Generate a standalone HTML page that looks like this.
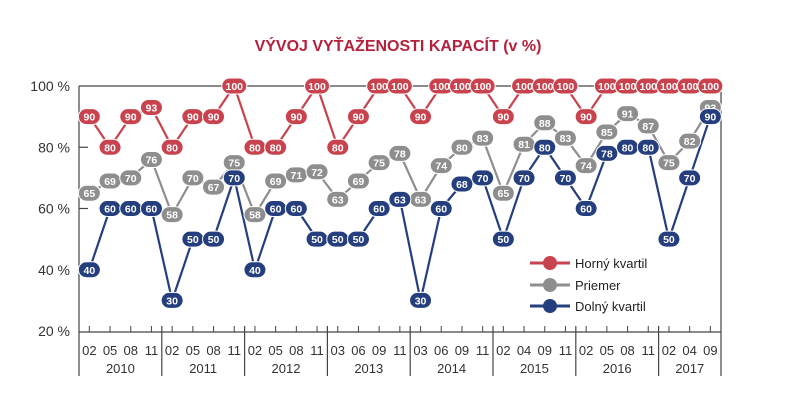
<!DOCTYPE html>
<html><head><meta charset="utf-8"><style>
html,body{margin:0;padding:0;background:#fff;width:796px;height:420px;overflow:hidden}
text{font-family:"Liberation Sans",sans-serif}
</style></head><body>
<svg id="s" width="796" height="420" xmlns="http://www.w3.org/2000/svg">
<text x="398" y="51" text-anchor="middle" font-size="16" font-weight="bold" fill="#b5213d">VÝVOJ VYŤAŽENOSTI KAPACÍT (v %)</text>
</svg>
<script>
const s=document.getElementById('s');
const NS='http://www.w3.org/2000/svg';
function el(t,a,txt){const e=document.createElementNS(NS,t);for(const k in a)e.setAttribute(k,a[k]);if(txt!=null)e.textContent=txt;s.appendChild(e);return e;}
const Y=v=>86+(100-v)*3.0625;
const X=i=>89.35+20.7*i;
el('line',{x1:79,y1:86,x2:721,y2:86,stroke:'#444','stroke-width':1.2});
el('line',{x1:79,y1:86,x2:79,y2:376,stroke:'#444','stroke-width':1.2});
el('line',{x1:721,y1:86,x2:721,y2:376,stroke:'#444','stroke-width':1.2});
el('line',{x1:79,y1:332,x2:721,y2:332,stroke:'#444','stroke-width':1.2});
[100,80,60,40,20].forEach(v=>{el('text',{x:70,y:Y(v)+5,'text-anchor':'end','font-size':14,fill:'#333'},v+' %');
 if(v<100&&v>20)el('line',{x1:79,y1:Y(v),x2:88,y2:Y(v),stroke:'#444','stroke-width':1.2});});
const months=['02','05','08','11','02','05','08','11','02','05','08','11','03','06','09','11','03','06','09','11','02','04','09','11','02','05','08','11','02','04','09'];
const years=['2010','2011','2012','2013','2014','2015','2016','2017'];
for(let i=0;i<31;i++){el('line',{x1:X(i),y1:326,x2:X(i),y2:332,stroke:'#444','stroke-width':1});
 el('text',{x:X(i),y:355,'text-anchor':'middle','font-size':13,fill:'#333'},months[i]);}
for(let y=1;y<8;y++){const x=79+82.8*y;el('line',{x1:x,y1:326,x2:x,y2:376,stroke:'#444','stroke-width':1.2});}
years.forEach((t,y)=>{const c=y<7?79+82.8*y+41.4:(79+82.8*7+721)/2;el('text',{x:c,y:373,'text-anchor':'middle','font-size':13,fill:'#333'},t);});
const up=[90,80,90,93,80,90,90,100,80,80,90,100,80,90,100,100,90,100,100,100,90,100,100,100,90,100,100,100,100,100,100];
const me=[65,69,70,76,58,70,67,75,58,69,71,72,63,69,75,78,63,74,80,83,65,81,88,83,74,85,91,87,75,82,93];
const lo=[40,60,60,60,30,50,50,70,40,60,60,50,50,50,60,63,30,60,68,70,50,70,80,70,60,78,80,80,50,70,90];
function series(d,c){el('polyline',{points:d.map((v,i)=>X(i)+','+Y(v)).join(' '),fill:'none',stroke:c,'stroke-width':2.2});}
function labels(d,c){d.forEach((v,i)=>{const w=v==100?25:22;el('rect',{x:X(i)-w/2,y:Y(v)-8,width:w,height:16,rx:8,fill:c,stroke:'#fff','stroke-width':1});
 el('text',{x:X(i),y:Y(v)+4,'text-anchor':'middle','font-size':10.5,'font-weight':'bold',fill:'#fff'},v);});}
const R='#c9434f',G='#8e8e8e',B='#253e7e';
series(up,R);series(me,G);series(lo,B);
labels(up,R);labels(me,G);labels(lo,B);
[[R,'Horný kvartil',263],[G,'Priemer',285],[B,'Dolný kvartil',306]].forEach(([c,t,y])=>{
 el('line',{x1:530,y1:y,x2:570,y2:y,stroke:c,'stroke-width':3});
 el('circle',{cx:550,cy:y,r:7,fill:c});
 el('text',{x:575,y:y+5,'font-size':13,fill:'#222'},t);});
</script>
</body></html>
